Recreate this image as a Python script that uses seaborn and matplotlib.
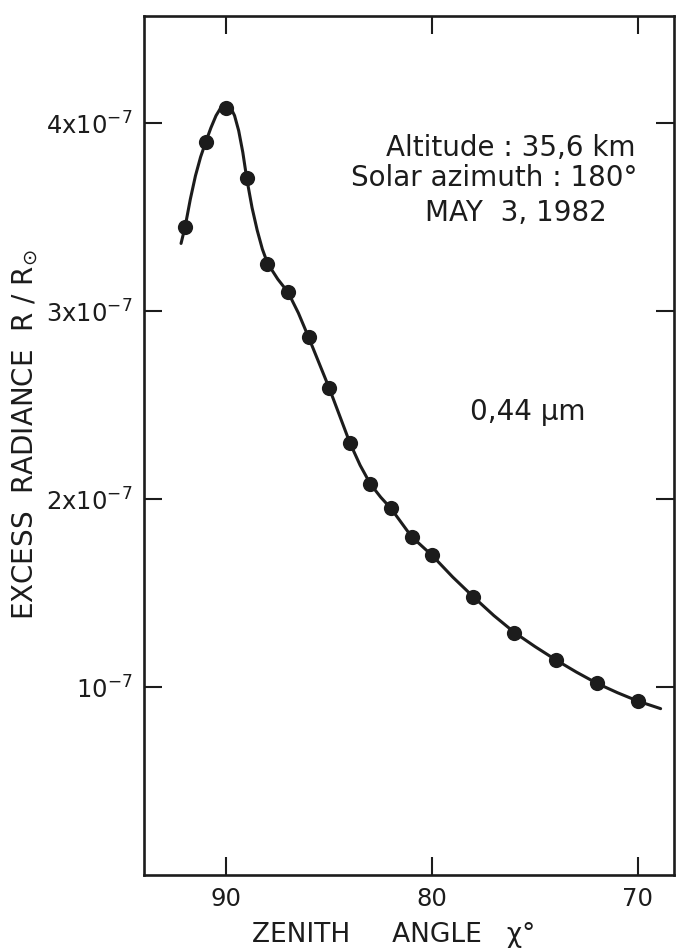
import matplotlib
matplotlib.use("Agg")
import matplotlib.pyplot as plt
import seaborn as sns

# ---------------- data ----------------
zenith_pts = [92, 91, 90, 89, 88, 87, 86, 85, 84, 83, 82, 81, 80, 78, 76, 74, 72, 70]
radiance_pts = [3.45e-7, 3.90e-7, 4.08e-7, 3.71e-7, 3.25e-7, 3.10e-7, 2.86e-7,
                2.59e-7, 2.30e-7, 2.08e-7, 1.95e-7, 1.80e-7, 1.70e-7, 1.48e-7,
                1.29e-7, 1.145e-7, 1.02e-7, 0.925e-7]

# smooth hand-drawn curve
curve_zenith = [92.2, 92.0, 91.75, 91.5, 91.25, 91.0, 90.75, 90.5, 90.25, 90.0,
                89.8, 89.6, 89.4, 89.2, 89.0, 88.75, 88.5, 88.25, 88.0,
                87.5, 87.0, 86.5, 86.0, 85.5, 85.0, 84.5, 84.0, 83.5, 83.0,
                82.5, 82.0, 81.5, 81.0, 80.5, 80.0, 79.0, 78.0, 77.0, 76.0,
                75.0, 74.0, 73.0, 72.0, 71.0, 70.0, 68.9]
curve_radiance = [3.36e-7, 3.45e-7, 3.595e-7, 3.72e-7, 3.82e-7, 3.90e-7, 3.975e-7,
                  4.04e-7, 4.085e-7, 4.10e-7, 4.085e-7, 4.04e-7, 3.96e-7, 3.845e-7,
                  3.70e-7, 3.55e-7, 3.43e-7, 3.33e-7, 3.255e-7, 3.17e-7, 3.10e-7,
                  2.99e-7, 2.86e-7, 2.725e-7, 2.59e-7, 2.445e-7, 2.30e-7,
                  2.18e-7, 2.08e-7, 2.01e-7, 1.95e-7, 1.875e-7, 1.80e-7, 1.75e-7,
                  1.70e-7, 1.585e-7, 1.48e-7, 1.38e-7, 1.29e-7, 1.215e-7,
                  1.145e-7, 1.08e-7, 1.02e-7, 0.97e-7, 0.925e-7, 0.885e-7]

x_ticks = [90, 80, 70]
x_tick_labels = ["90", "80", "70"]
y_ticks = [1e-7, 2e-7, 3e-7, 4e-7]
y_tick_labels = ["10$^{-7}$", "2x10$^{-7}$", "3x10$^{-7}$", "4x10$^{-7}$"]

x_label = "ZENITH     ANGLE   χ°"
y_label = "EXCESS  RADIANCE  R / R$_{\\odot}$"
notes = ["Altitude : 35,6 km", "Solar azimuth : 180°", "MAY  3, 1982"]
wavelength = "0,44 µm"

# ---------------- style ----------------
sns.set_style("ticks")
plt.rcParams["font.family"] = ["DejaVu Sans"]
plt.rcParams["mathtext.fontset"] = "dejavusans"
ink = "#1c1c1c"

W, H = 677, 950
fig = plt.figure(figsize=(W / 100, H / 100), dpi=100)
fig.patch.set_facecolor("white")

left, right, top, bottom = 144, 674, 16, 875
ax = fig.add_axes([left / W, 1 - bottom / H, (right - left) / W, (bottom - top) / H])
ax.set_facecolor("white")

sns.lineplot(x=curve_zenith, y=curve_radiance, sort=False, estimator=None,
             color=ink, linewidth=2.2, ax=ax)
sns.scatterplot(x=zenith_pts, y=radiance_pts, s=120, color=ink,
                edgecolor=ink, linewidth=0, ax=ax, zorder=3)

ax.set_xlim(94.0, 68.25)
ax.set_ylim(0, 4.57e-7)

ax.set_xticks(x_ticks, labels=x_tick_labels)
ax.set_yticks(y_ticks, labels=y_tick_labels)
ax.tick_params(direction="in", length=13, width=1.5, top=True, right=True,
               labelsize=17.5, colors=ink)
ax.tick_params(axis="x", pad=9)
ax.tick_params(axis="y", pad=8)

for s in ax.spines.values():
    s.set_visible(True)
    s.set_linewidth(1.9)
    s.set_color(ink)

ax.set_xlabel(x_label, fontsize=19, color=ink)
ax.set_ylabel(y_label, fontsize=20, color=ink)
ax.xaxis.set_label_coords((394 - left) / (right - left), (bottom - 922) / (bottom - top))
ax.yaxis.set_label_coords((40 - left) / (right - left), (bottom - 435) / (bottom - top))

def fpos(x, y):
    return x / W, 1 - y / H

fig.text(*fpos(511, 156), notes[0], ha="center", va="baseline", fontsize=20, color=ink)
fig.text(*fpos(494, 186), notes[1], ha="center", va="baseline", fontsize=20, color=ink)
fig.text(*fpos(516, 221), notes[2], ha="center", va="baseline", fontsize=20, color=ink)
fig.text(*fpos(528, 420), wavelength, ha="center", va="baseline", fontsize=20, color=ink)

fig.savefig("out.png", dpi=100, facecolor="white")
